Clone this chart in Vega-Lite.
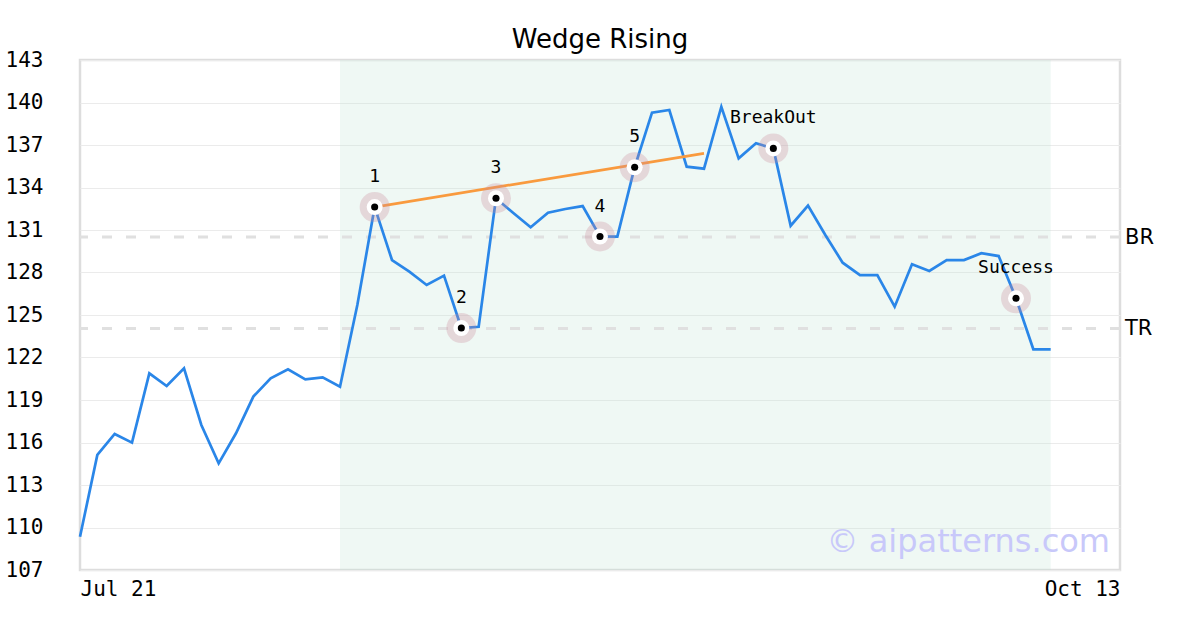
{
  "$schema": "https://vega.github.io/schema/vega-lite/v6.json",
  "width": 1040,
  "height": 510,
  "autosize": {"type": "none"},
  "padding": {"left": 80, "top": 60, "right": 80, "bottom": 60},
  "background": "white",
  "title": {"text": "Wedge Rising", "font": "DejaVu Sans", "fontSize": 26, "fontWeight": "normal", "color": "#000000", "offset": -4},
  "config": {
    "view": {"stroke": "#dddddd", "strokeWidth": 2.5},
    "axis": {"labelFont": "DejaVu Sans Mono", "labelFontSize": 21, "labelColor": "#000000", "ticks": false, "domain": false, "title": null, "labelOverlap": false}
  },
  "datasets": {
    "price": [
      {"i": 0, "v": 109.35}, {"i": 1, "v": 115.12}, {"i": 2, "v": 116.6}, {"i": 3, "v": 115.99},
      {"i": 4, "v": 120.88}, {"i": 5, "v": 119.99}, {"i": 6, "v": 121.24}, {"i": 7, "v": 117.24},
      {"i": 8, "v": 114.53}, {"i": 9, "v": 116.65}, {"i": 10, "v": 119.24}, {"i": 11, "v": 120.53},
      {"i": 12, "v": 121.17}, {"i": 13, "v": 120.46}, {"i": 14, "v": 120.6}, {"i": 15, "v": 119.94},
      {"i": 16, "v": 125.7}, {"i": 17, "v": 132.62}, {"i": 18, "v": 128.88}, {"i": 19, "v": 128.06},
      {"i": 20, "v": 127.12}, {"i": 21, "v": 127.78}, {"i": 22, "v": 124.08}, {"i": 23, "v": 124.17},
      {"i": 24, "v": 133.24}, {"i": 25, "v": 132.2}, {"i": 26, "v": 131.19}, {"i": 27, "v": 132.22},
      {"i": 28, "v": 132.48}, {"i": 29, "v": 132.69}, {"i": 30, "v": 130.54}, {"i": 31, "v": 130.53},
      {"i": 32, "v": 135.43}, {"i": 33, "v": 139.28}, {"i": 34, "v": 139.47}, {"i": 35, "v": 135.47},
      {"i": 36, "v": 135.33}, {"i": 37, "v": 139.7}, {"i": 38, "v": 136.06}, {"i": 39, "v": 137.12},
      {"i": 40, "v": 136.76}, {"i": 41, "v": 131.3}, {"i": 42, "v": 132.72}, {"i": 43, "v": 130.65},
      {"i": 44, "v": 128.69}, {"i": 45, "v": 127.82}, {"i": 46, "v": 127.82}, {"i": 47, "v": 125.59},
      {"i": 48, "v": 128.58}, {"i": 49, "v": 128.11}, {"i": 50, "v": 128.88}, {"i": 51, "v": 128.88},
      {"i": 52, "v": 129.36}, {"i": 53, "v": 129.16}, {"i": 54, "v": 126.18}, {"i": 55, "v": 122.58},
      {"i": 56, "v": 122.58}
    ],
    "band": [{"i": 15, "i2": 56, "v": 107, "v2": 143}],
    "levels": [{"name": "BR", "v": 130.5}, {"name": "TR", "v": 124.05}],
    "trend": [{"i": 17, "v": 132.62}, {"i": 36, "v": 136.41}],
    "marks": [
      {"i": 17, "v": 132.62, "label": "1"},
      {"i": 22, "v": 124.08, "label": "2"},
      {"i": 24, "v": 133.24, "label": "3"},
      {"i": 30, "v": 130.54, "label": "4"},
      {"i": 32, "v": 135.43, "label": "5"},
      {"i": 40, "v": 136.76, "label": "BreakOut"},
      {"i": 54, "v": 126.18, "label": "Success"}
    ],
    "wm": [{"text": "© aipatterns.com"}]
  },
  "layer": [
    {
      "data": {"name": "band"},
      "mark": {"type": "rect", "fill": "#bfe3d3", "opacity": 0.25},
      "encoding": {
        "x": {"field": "i", "type": "quantitative", "scale": {"domain": [0, 60], "nice": false, "zero": false},
              "axis": {"values": [0, 60], "labelExpr": "datum.value == 0 ? 'Jul 21' : 'Oct 13'", "labelFlush": true, "grid": false, "labelPadding": 8}},
        "x2": {"field": "i2"},
        "y": {"field": "v", "type": "quantitative", "scale": {"domain": [107, 143], "nice": false, "zero": false},
              "axis": {"values": [107, 110, 113, 116, 119, 122, 125, 128, 131, 134, 137, 140, 143], "grid": true, "gridColor": "#ebebeb", "gridWidth": 1, "labelPadding": 37, "labelFlush": false}},
        "y2": {"field": "v2"}
      }
    },
    {
      "data": {"name": "levels"},
      "mark": {"type": "rule", "stroke": "#e0e0e0", "strokeWidth": 3, "strokeDash": [10, 14]},
      "encoding": {
        "y": {"field": "v", "type": "quantitative", "scale": {"domain": [107, 143], "nice": false, "zero": false}}
      }
    },
    {
      "data": {"name": "levels"},
      "mark": {"type": "text", "align": "left", "baseline": "middle", "dx": 5, "dy": 1, "font": "DejaVu Sans", "fontSize": 21, "color": "#000000", "clip": false},
      "encoding": {
        "x": {"datum": 60, "type": "quantitative", "scale": {"domain": [0, 60], "nice": false, "zero": false}},
        "y": {"field": "v", "type": "quantitative", "scale": {"domain": [107, 143], "nice": false, "zero": false}},
        "text": {"field": "name"}
      }
    },
    {
      "data": {"name": "price"},
      "mark": {"type": "line", "stroke": "#2a86e8", "strokeWidth": 2.7, "strokeJoin": "miter"},
      "encoding": {
        "x": {"field": "i", "type": "quantitative", "scale": {"domain": [0, 60], "nice": false, "zero": false}},
        "y": {"field": "v", "type": "quantitative", "scale": {"domain": [107, 143], "nice": false, "zero": false}}
      }
    },
    {
      "data": {"name": "trend"},
      "mark": {"type": "line", "stroke": "#f99a3e", "strokeWidth": 2.7},
      "encoding": {
        "x": {"field": "i", "type": "quantitative", "scale": {"domain": [0, 60], "nice": false, "zero": false}},
        "y": {"field": "v", "type": "quantitative", "scale": {"domain": [107, 143], "nice": false, "zero": false}}
      }
    },
    {
      "data": {"name": "marks"},
      "mark": {"type": "circle", "fill": "#c98a9b", "opacity": 0.3, "size": 900},
      "encoding": {
        "x": {"field": "i", "type": "quantitative", "scale": {"domain": [0, 60], "nice": false, "zero": false}},
        "y": {"field": "v", "type": "quantitative", "scale": {"domain": [107, 143], "nice": false, "zero": false}}
      }
    },
    {
      "data": {"name": "marks"},
      "mark": {"type": "circle", "fill": "#ffffff", "opacity": 1, "size": 256},
      "encoding": {
        "x": {"field": "i", "type": "quantitative", "scale": {"domain": [0, 60], "nice": false, "zero": false}},
        "y": {"field": "v", "type": "quantitative", "scale": {"domain": [107, 143], "nice": false, "zero": false}}
      }
    },
    {
      "data": {"name": "marks"},
      "mark": {"type": "circle", "fill": "#000000", "opacity": 1, "size": 50},
      "encoding": {
        "x": {"field": "i", "type": "quantitative", "scale": {"domain": [0, 60], "nice": false, "zero": false}},
        "y": {"field": "v", "type": "quantitative", "scale": {"domain": [107, 143], "nice": false, "zero": false}}
      }
    },
    {
      "data": {"name": "marks"},
      "mark": {"type": "text", "align": "center", "baseline": "middle", "dy": -30, "font": "DejaVu Sans Mono", "fontSize": 18, "color": "#000000"},
      "encoding": {
        "x": {"field": "i", "type": "quantitative", "scale": {"domain": [0, 60], "nice": false, "zero": false}},
        "y": {"field": "v", "type": "quantitative", "scale": {"domain": [107, 143], "nice": false, "zero": false}},
        "text": {"field": "label"}
      }
    },
    {
      "data": {"name": "wm"},
      "mark": {"type": "text", "align": "right", "baseline": "alphabetic", "dx": -10, "dy": -18, "font": "DejaVu Sans", "fontSize": 32, "color": "#c8c8fa"},
      "encoding": {
        "x": {"datum": 60, "type": "quantitative", "scale": {"domain": [0, 60], "nice": false, "zero": false}},
        "y": {"datum": 107, "type": "quantitative", "scale": {"domain": [107, 143], "nice": false, "zero": false}},
        "text": {"field": "text"}
      }
    }
  ]
}
